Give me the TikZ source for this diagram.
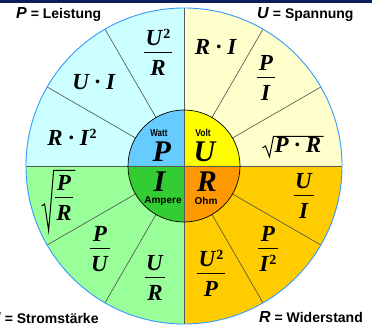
\documentclass[tikz,border=0pt]{standalone}
\usepackage{fontspec}
\usepackage{graphicx}
\usetikzlibrary{calc}
\setmainfont{Liberation Serif}
\newfontfamily\sansf{Liberation Sans}
\definecolor{navy}{HTML}{0B1F5C}
\definecolor{lcyan}{HTML}{CCFFFF}
\definecolor{pblue}{HTML}{66CCFF}
\definecolor{lyellow}{HTML}{FFFFCC}
\definecolor{uyellow}{HTML}{FFFF00}
\definecolor{lgreen}{HTML}{99FF99}
\definecolor{igreen}{HTML}{33CC33}
\definecolor{gold}{HTML}{FFCC00}
\definecolor{rorange}{HTML}{FF9900}
\definecolor{rimblue}{HTML}{3399FF}
\newcommand{\V}[1]{\textbf{\textit{#1}}}
\newcommand{\two}{\raisebox{7pt}{\fontsize{14}{14}\selectfont\bfseries 2}}
\newcommand{\fr}[2]{{\setlength{\arrayrulewidth}{1.6pt}\setlength{\tabcolsep}{1.5pt}\begin{tabular}{c}#1\\[-2pt]\hline\rule{0pt}{22pt}#2\end{tabular}}}
\tikzset{
  formula/.style={inner sep=0pt, font=\fontsize{23}{27}\selectfont},
  bigletter/.style={inner sep=0pt, font=\fontsize{30}{34}\selectfont},
  unitlabel/.style={inner sep=0pt, font=\sansf\bfseries\fontsize{10}{11}\selectfont},
  cornerlabel/.style={inner sep=0pt, anchor=west, font=\sansf\bfseries\fontsize{14}{16}\selectfont},
  sector/.style={draw=black!70, line width=0.6pt},
  quadline/.style={draw=black!65, line width=0.7pt},
  radical/.style={draw=black, line width=1pt, line join=miter}
}
\begin{document}
\begin{tikzpicture}[x=1pt,y=1pt]
\useasboundingbox (0,0) rectangle (372,326);
\fill[navy] (0,323) rectangle (372,326);
\coordinate (C) at (184,160);
% outer quadrants
\fill[lcyan]   (C) -- ++(90:158)  arc[start angle=90, end angle=180, radius=158] -- cycle;
\fill[lyellow] (C) -- ++(0:158)   arc[start angle=0, end angle=90, radius=158] -- cycle;
\fill[lgreen]  (C) -- ++(180:158) arc[start angle=180, end angle=270, radius=158] -- cycle;
\fill[gold]    (C) -- ++(270:158) arc[start angle=270, end angle=360, radius=158] -- cycle;
% inner quadrants
\fill[pblue]   (C) -- ++(90:56)  arc[start angle=90, end angle=180, radius=56] -- cycle;
\fill[uyellow] (C) -- ++(0:56)   arc[start angle=0, end angle=90, radius=56] -- cycle;
\fill[igreen]  (C) -- ++(180:56) arc[start angle=180, end angle=270, radius=56] -- cycle;
\fill[rorange] (C) -- ++(270:56) arc[start angle=270, end angle=360, radius=56] -- cycle;
% sector lines
\foreach \a in {30,60,120,150,210,240,300,330}
  \draw[sector] (C) ++(\a:56) -- ++(\a:102);
% quadrant lines
\draw[quadline] (C) ++(180:158) -- ++(0:316);
\draw[quadline] (C) ++(90:158) -- ++(270:316);
% circles
\draw[black, line width=0.7pt] (C) circle[radius=56];
\draw[rimblue, line width=0.9pt] (C) circle[radius=158];
% corner labels
\node[cornerlabel] (lP) at (16,312) {{\fontsize{16}{16}\selectfont\V{P}} = Leistung};
\node[cornerlabel] (lU) at (257,312) {{\fontsize{16}{16}\selectfont\V{U}} = Spannung};
\node[cornerlabel] (lI) at (-4,8) {{\fontsize{16}{16}\selectfont\V{I}} = Stromstärke};
\node[cornerlabel] (lR) at (259,9) {{\fontsize{16}{16}\selectfont\V{R}} = Widerstand};
% centre
\node[unitlabel] (watt) at (159,193) {\scalebox{0.8}[1]{Watt}};
\node[bigletter] (cP) at (162,174) {\V{P}};
\node[unitlabel] (volt) at (203,193) {\scalebox{0.85}[1]{Volt}};
\node[bigletter] (cU) at (205,174) {\V{U}};
\node[bigletter] (cI) at (160,144) {\V{I}};
\node[unitlabel] (amp) at (163,125) {Ampere};
\node[bigletter] (cR) at (207,144) {\V{R}};
\node[unitlabel] (ohm) at (206,125) {Ohm};
% formulas: P quadrant
\node[formula] (f1) at (158,271) {\fr{\V{U}\two}{\V{R}}};
\node[formula] (f2) at (94,244) {\V{U · I}};
\node[formula] (f3) at (72,189) {\V{R · I}\two};
% U quadrant
\node[formula] (f4) at (216,279) {\V{R · I}};
\node[formula] (f5) at (266,246) {\fr{\V{P}}{\V{I}}};
\node[formula] (f6) at (298,181) {\V{P · R}};
\draw[radical] ($(f6.west)+(-12,-3)$) -- ++(3,2) -- ($(f6.south west)+(-5,-4)$) -- ($(f6.north west)+(-1,1)$) -- ($(f6.north east)+(2,1)$);
% I quadrant
\node[formula] (f7) at (64,126) {\fr{\V{P}}{\V{R}}};
\draw[radical] ($(f7.west)+(-13,-6)$) -- ++(3,2) -- ($(f7.south west)+(-6,-2)$) -- ($(f7.north west)+(-1,1)$) -- ($(f7.north east)+(2,1)$);
\node[formula] (f8) at (100,75) {\fr{\V{P}}{\V{U}}};
\node[formula] (f9) at (155,46) {\fr{\V{U}}{\V{R}}};
% R quadrant
\node[formula] (f10) at (304,128) {\fr{\V{U}}{\V{I}}};
\node[formula] (f11) at (268,75) {\fr{\V{P}}{\V{I}\two}};
\node[formula] (f12) at (211,50) {\fr{\V{U}\two}{\V{P}}};
\end{tikzpicture}
\end{document}
